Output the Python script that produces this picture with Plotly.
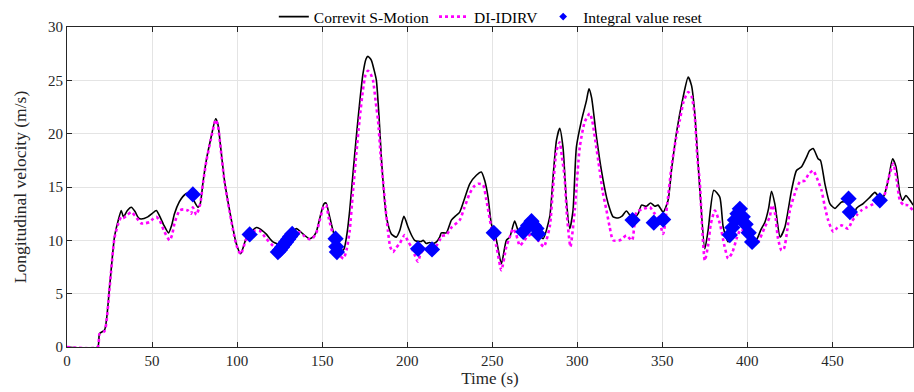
import plotly.graph_objects as go

# Correvit S-Motion (reference)
t_ref = [0, 18, 19.1, 22.1, 25, 27.9, 30, 31.9, 33.2, 35.5, 37.8, 40, 42, 43.6, 47.5, 50, 52.5, 54.4, 57, 59.7,
         61.5, 63.2, 66, 68.1, 70.5, 73.1, 75, 77, 78.3, 80, 81.9, 84.5, 87.4, 88.7, 90.5, 92.6, 95.6, 99.5, 102.1,
         105.4, 108.4, 111.3, 113.2, 117, 121.1, 126, 130, 134.8, 138.7, 142.6, 144.5, 146.6, 148.5, 151, 152.3,
         154, 156.4, 158.5, 160.3, 162.6, 164.5, 166.2, 168, 170.1, 172, 174, 175.8, 176.9, 178.9, 180.5, 181.9,
         183.5, 184.8, 186.3, 187.8, 190.7, 193.6, 195.6, 198.1, 200.5, 202.5, 204.4, 206.5, 208.3, 209.4, 211.2,
         213, 215.2, 217.2, 219.1, 220.1, 223, 226, 228.5, 230.9, 233.5, 236.8, 240.7, 243.6, 245.6, 247.5, 249.5,
         252.5, 255.4, 258.3, 260.3, 263.2, 265.5, 268.1, 271, 274, 277.5, 279.9, 283.8, 285.8, 287.8, 289.7,
         291.6, 293.6, 295.6, 297.5, 299.5, 302.5, 305.4, 306.9, 308.4, 311.3, 314.2, 317.2, 319, 321.1, 324,
         326.5, 328.9, 332.8, 335.8, 337.8, 340.7, 343.1, 345.6, 347.5, 350.5, 353.4, 355.4, 358.4, 362.2, 365.2,
         367.2, 369.1, 372.1, 375, 376.9, 380.3, 383.8, 385.8, 388.7, 391, 393, 395.6, 398, 400.5, 402.8, 405.5,
         408, 410.3, 412.5, 414.2, 416.2, 419.3, 422.1, 426, 428.9, 431.9, 434.8, 436.5, 438.7, 441.6, 443,
         445.6, 448.5, 451.5, 455.4, 458.4, 460.5, 462.2, 464.2, 468.1, 472.1, 475, 477.9, 479.9, 482.8, 485.4,
         487.4, 489.7, 491.3, 493.2, 495.6, 497.5]
v_ref = [0, 0, 1.25, 1.6, 5.6, 10.3, 11.8, 12.8, 12.2, 12.8, 13.1, 12.7, 12.1, 12.0, 12.2, 12.5, 12.8, 12.3, 11.4,
         10.7, 11.4, 12.5, 13.6, 14.1, 14.4, 14.2, 13.6, 13.1, 13.4, 15.5, 17.5, 19.5, 21.4, 20.9, 18.5, 15.6,
         12.8, 9.7, 8.75, 10.2, 10.8, 11.2, 11.1, 10.6, 9.85, 9.6, 10.2, 11.1, 10.6, 10.15, 10.3, 10.8, 12.0,
         13.4, 13.5, 12.5, 10.9, 9.8, 9.1, 9.1, 10.5, 12.8, 16.0, 19.7, 22.8, 25.6, 27.0, 27.25, 26.9, 26.0,
         25.0, 21.5, 17.8, 14.5, 12.2, 10.6, 10.3, 10.9, 12.25, 11.25, 10.5, 10.0, 9.9, 9.9, 10.0, 9.7, 9.8,
         9.7, 9.85, 10.3, 10.7, 10.7, 11.9, 12.3, 12.65, 13.8, 15.3, 16.1, 16.4, 15.6, 14.1, 11.55, 10.0, 7.8,
         10.0, 10.3, 11.8, 10.8, 10.5, 11.1, 11.4, 10.6, 10.15, 12.2, 16.0, 19.4, 20.5, 18.75, 13.75, 11.1,
         12.8, 18.75, 21.25, 23.1, 24.2, 23.4, 19.7, 16.55, 14.05, 13.0, 12.2, 12.1, 12.3, 12.75, 12.0, 12.5,
         13.3, 13.2, 13.5, 13.2, 13.3, 12.65, 13.75, 16.55, 20.15, 23.4, 25.3, 24.5, 21.9, 14.7, 9.2, 10.9,
         14.7, 14.05, 11.25, 9.85, 10.8, 11.9, 12.8, 12.0, 10.9, 9.9, 10.1, 11.0, 11.7, 13.0, 14.6, 13.4,
         10.3, 11.25, 14.7, 16.55, 16.9, 17.8, 18.4, 18.6, 17.65, 17.5, 15.3, 13.45, 13.0, 13.6, 13.6, 13.0,
         12.2, 13.0, 13.45, 14.05, 14.5, 14.0, 14.05, 15.6, 17.65, 16.9, 14.4, 13.75, 14.2, 13.75, 13.3]

# DI-IDIRV (estimate)
t_est = [0, 18, 19.1, 22.1, 25, 27.9, 30, 31.9, 33.2, 35.5, 37.8, 40, 43.6, 46, 48.5, 50.5, 52.5, 54.4, 57, 60.3,
         61.8, 63.2, 66.2, 68.5, 71, 73, 74, 76, 78.3, 80, 81.9, 84.5, 87.4, 88.7, 90.5, 92.6, 95.6, 99.5, 102.1,
         105.4, 108.4, 110.5, 113.2, 117.2, 121.1, 125, 128, 132, 136.8, 139.5, 142.6, 144.5, 146.6, 148.5,
         151, 152.3, 154, 156.4, 158.5, 160.3, 162.6, 164.5, 166.2, 168, 170.1, 172, 174, 175.5, 176.9, 178.5,
         179.9, 181.5, 182.9, 184.4, 185.8, 187.3, 188.7, 190, 191.7, 193.5, 195.6, 198.5, 200.5, 202.4, 204.5,
         206.3, 208, 210.2, 213, 215.2, 217.2, 219.1, 220.1, 223, 226, 230.9, 233.5, 236.8, 239, 241.7, 244.6,
         246.6, 249.5, 252.5, 255.4, 258.3, 260.3, 262.3, 264, 266.2, 268, 271, 274, 277, 280.3, 283.8, 285.8,
         287.8, 289.7, 291, 292.5, 294, 296, 298.5, 301.5, 304.4, 307.3, 308.8, 310.3, 313.2, 315, 317.2, 319,
         321.1, 325, 328.9, 332.2, 334.8, 338, 342.7, 345, 347.5, 350.5, 353, 355.4, 358, 360.3, 362.5, 365.2,
         367.2, 369.1, 370.5, 372.1, 373.5, 375, 376.9, 378.5, 380.9, 383.8, 386.5, 388.7, 391, 394, 396, 399,
         402, 404, 406.4, 410.3, 413.2, 414.5, 416.2, 418, 420.1, 421.5, 423.5, 425, 428.9, 431, 433.8, 436,
         438.7, 441, 443.6, 445.5, 447.5, 450.5, 453, 455.4, 459.3, 461.5, 464.2, 467, 470.1, 474, 477.9, 480.5,
         483, 485.8, 487.5, 489.7, 492, 494, 497.5]
v_est = [0, 0, 1.2, 1.5, 5.5, 10.2, 11.5, 12.2, 12.1, 12.4, 12.65, 12.3, 11.6, 11.6, 11.7, 12.0, 12.2, 11.9, 10.9,
         10.0, 10.5, 11.6, 12.8, 12.9, 12.8, 12.5, 13.1, 12.4, 13.4, 15.4, 17.4, 19.4, 21.3, 20.8, 18.4, 15.5,
         12.7, 9.6, 8.7, 10.1, 10.6, 10.9, 10.9, 10.15, 9.5, 9.1, 9.3, 10.1, 10.75, 10.4, 10.1, 10.2, 10.7,
         11.8, 13.2, 13.3, 12.0, 10.5, 9.2, 8.6, 8.3, 9.2, 10.9, 14.3, 18.1, 21.3, 24.1, 25.5, 25.9, 25.6,
         25.0, 23.0, 21.2, 18.0, 15.6, 13.0, 10.9, 9.4, 8.9, 9.3, 9.7, 10.5, 9.9, 9.4, 8.6, 8.0, 8.8, 9.2,
         9.2, 9.2, 9.5, 10.0, 10.4, 10.5, 11.2, 11.9, 13.0, 14.4, 15.0, 15.3, 15.2, 13.75, 11.2, 9.4, 7.2,
         9.4, 10.3, 11.1, 10.6, 9.5, 9.8, 10.4, 10.6, 10.0, 9.4, 11.25, 15.0, 18.4, 19.2, 17.8, 16.0, 12.2,
         9.4, 12.8, 18.75, 21.1, 21.9, 21.2, 19.7, 16.55, 14.5, 12.8, 11.3, 10.0, 10.0, 10.45, 10.0, 12.65,
         12.9, 13.1, 12.6, 12.2, 10.6, 13.5, 16.9, 19.5, 21.25, 23.0, 23.9, 23.5, 21.6, 18.0, 15.3, 11.0, 8.1,
         9.5, 11.5, 12.8, 11.6, 9.5, 8.3, 8.8, 10.3, 11.0, 10.8, 10.0, 9.6, 9.85, 11.25, 12.2, 13.3, 12.6, 10.2,
         9.05, 9.2, 11.0, 12.8, 14.85, 15.5, 15.6, 16.2, 16.55, 15.8, 14.7, 13.2, 11.9, 10.8, 11.2, 11.4, 11.1,
         11.8, 12.35, 12.8, 13.1, 13.4, 13.75, 14.2, 15.8, 17.2, 16.0, 13.75, 13.3, 13.3, 12.8]

# Integral value reset events
t_reset = [74.0, 107.4, 124.0, 125.2, 126.4, 127.6, 128.8, 130.0, 131.2, 132.4, 157.9, 158.3, 158.7, 206.4, 214.6,
           250.9, 268.2, 271.1, 273.1, 274.5, 276.0, 277.0, 332.5, 345.0, 350.5, 389.7, 391.2, 392.7, 394.2,
           395.6, 397.3, 399.0, 400.8, 402.8, 459.5, 460.3, 477.9]
v_reset = [14.3, 10.55, 8.9, 9.1, 9.35, 9.6, 9.85, 10.1, 10.35, 10.6, 10.15, 9.4, 8.9, 9.2, 9.15,
           10.7, 10.8, 11.4, 11.8, 11.4, 11.1, 10.6, 11.9, 11.65, 11.95, 10.5, 11.2, 11.9, 12.5,
           12.95, 12.2, 11.5, 10.7, 9.85, 13.9, 12.65, 13.75]

x_ticks = [0, 50, 100, 150, 200, 250, 300, 350, 400, 450]
y_ticks = [0, 5, 10, 15, 20, 25, 30]

FONT = "Liberation Serif"
fig = go.Figure()
fig.add_trace(go.Scatter(x=t_ref, y=v_ref, mode="lines", name="Correvit S-Motion",
                         line=dict(color="black", width=1.6, shape="spline", smoothing=0.6)))
fig.add_trace(go.Scatter(x=t_est, y=v_est, mode="lines", name="DI-IDIRV",
                         line=dict(color="#ff00ff", width=2.6, dash="dot", shape="spline", smoothing=0.6)))
fig.add_trace(go.Scatter(x=t_reset, y=v_reset, mode="markers", name="Integral value reset", showlegend=False,
                         marker=dict(symbol="diamond", size=12.5, color="#0000ff", line=dict(width=0))))
fig.add_trace(go.Scatter(x=[None], y=[None], mode="markers", name="Integral value reset",
                         marker=dict(symbol="diamond", size=6, color="#0000ff", line=dict(width=0))))

axis_common = dict(showline=True, linecolor="#262626", linewidth=1, mirror="ticks", ticks="inside",
                   ticklen=5, tickcolor="#262626", showgrid=True, gridcolor="#e4e4e4", gridwidth=1,
                   zeroline=False, tickfont=dict(family=FONT, size=15, color="#262626"))
fig.update_xaxes(range=[0, 497.4], tickvals=x_ticks, title=dict(text="Time (s)", standoff=4,
                 font=dict(family=FONT, size=17, color="#262626")), **axis_common)
fig.update_yaxes(range=[0, 30], tickvals=y_ticks, title=dict(text="Longitudinal velocity (m/s)", standoff=16,
                 font=dict(family=FONT, size=17.5, color="#262626")), **axis_common)
fig.update_layout(width=914, height=392, margin=dict(l=67, r=1, t=27, b=45, autoexpand=False),
                  plot_bgcolor="white", paper_bgcolor="white",
                  legend=dict(orientation="h", x=0.537, xanchor="center", xref="container",
                              y=1.0, yanchor="top", yref="container",
                              font=dict(family=FONT, size=15.5, color="black"), bgcolor="rgba(0,0,0,0)",
                              tracegroupgap=0, itemwidth=30),
                  font=dict(family=FONT))
fig.write_html("out.html")
